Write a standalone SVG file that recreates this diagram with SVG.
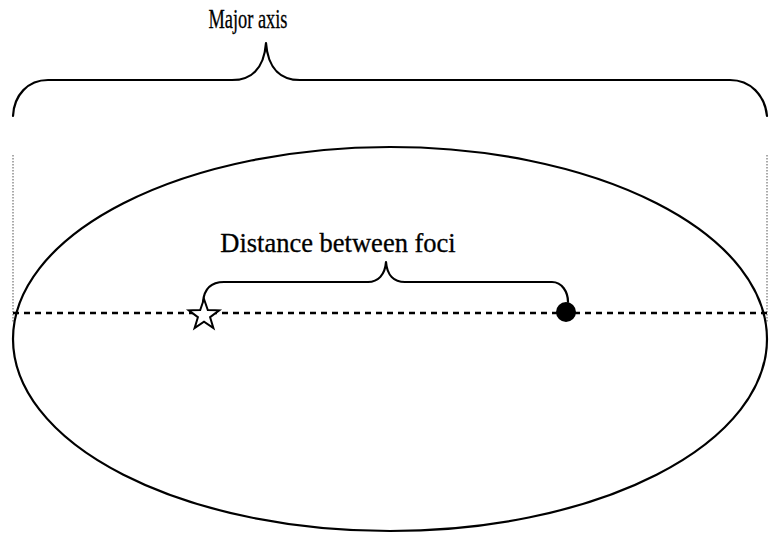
<svg xmlns="http://www.w3.org/2000/svg" width="773" height="533" viewBox="0 0 773 533">
<style>
.lbl{font-family:"Liberation Serif","Times New Roman",serif;fill:#000;stroke:#000;stroke-width:0.3}
.brace{fill:none;stroke:#000;stroke-width:2.2;stroke-linecap:round;stroke-linejoin:round}
.guide{stroke:#555;stroke-width:1;stroke-dasharray:1.5 1.5;fill:none}
</style>
<rect width="773" height="533" fill="#fff"/>
<g id="ellipse">
<ellipse cx="390" cy="339" rx="377" ry="192" fill="none" stroke="#000" stroke-width="2.2"/>
</g>
<g id="connectors">
<line class="guide" x1="13" y1="155" x2="13" y2="322"/>
<line class="guide" x1="767" y1="155" x2="767" y2="322"/>
<line x1="13" y1="313" x2="767" y2="313" stroke="#000" stroke-width="2.5" stroke-dasharray="6 5"/>
<path class="brace" d="M13,116 C14,95 28,80 48,80 L232,80 C250,80 264,70 266,43 C268,70 282,80 300,80 L730,80 C750,80 765,95 767,116"/>
<path class="brace" d="M203,302 C204,290 210,282 224,282 L368,282 C378,282 385,275 386,262 C387,275 394,282 405,282 L552,282 C562,282 568,292 568,302"/>
</g>
<g id="major-axis-label">
<text class="lbl" x="248" y="28" font-size="27" text-anchor="middle" textLength="79" lengthAdjust="spacingAndGlyphs">Major axis</text>
</g>
<g id="foci-label">
<text class="lbl" x="338" y="252" font-size="26.5" text-anchor="middle">Distance between foci</text>
</g>
<g id="focus-star">
<polygon points="204,299 207.8,310 219.2,310.3 210.1,317.2 213.4,328.1 204,321.6 194.6,328.1 197.9,317.2 188.8,310.3 200.2,310" fill="#fff" stroke="#000" stroke-width="2"/>
</g>
<g id="focus-dot">
<circle cx="566" cy="312" r="10" fill="#000"/>
</g>
</svg>
